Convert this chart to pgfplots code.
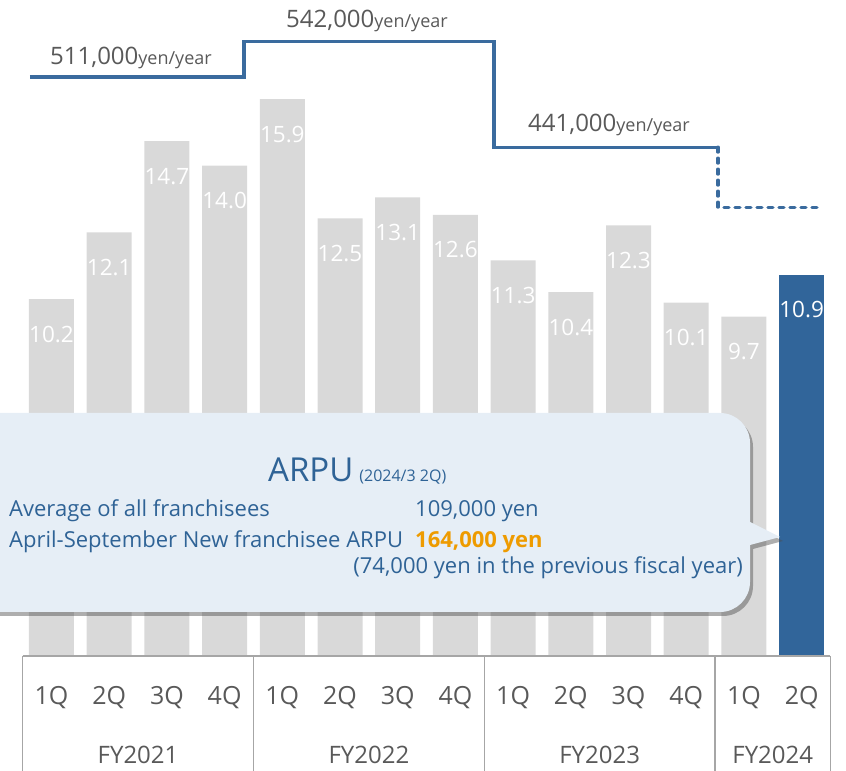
\documentclass[border=0pt]{standalone}
\usepackage{fontspec}
\setmainfont{Open Sans}
\usepackage{pgfplots}
\pgfplotsset{compat=1.18}
\usetikzlibrary{shadows}
\definecolor{bargray}{HTML}{D9D9D9}
\definecolor{barblue}{HTML}{31659A}
\definecolor{lineblue}{HTML}{3A6B9E}
\definecolor{txtgray}{HTML}{595959}
\definecolor{boxblue}{HTML}{E6EEF6}
\definecolor{txtblue}{HTML}{2F6396}
\definecolor{orng}{HTML}{EE9B00}
\definecolor{gridgray}{HTML}{A6A6A6}
\begin{document}
\begin{tikzpicture}
\begin{axis}[at={(0,0)}, anchor=south west, scale only axis, width=846pt, height=771pt,
  xmin=-0.8925, xmax=13.769, ymin=-3.249, ymax=18.723,
  axis line style={draw=none}, major tick length=0pt, ytick=\empty,
  xtick={0,...,13}, xticklabels={1Q,2Q,3Q,4Q,1Q,2Q,3Q,4Q,1Q,2Q,3Q,4Q,1Q,2Q},
  xticklabel style={font=\fontsize{25}{28}\selectfont, text=txtgray, anchor=center, yshift=73pt},
  clip=false,
  /pgf/number format/.cd, fixed, fixed zerofill, precision=1, assume math mode=true]
\addplot[ybar, bar width=45pt, bar shift=0pt, fill=bargray, draw=none,
  nodes near coords, every node near coord/.append style={anchor=center, yshift=-35pt, text=white, font=\fontsize{22.5}{26}\selectfont}]
  coordinates {(0,10.2) (1,12.1) (2,14.7) (3,14.0) (4,15.9) (5,12.5) (6,13.1) (7,12.6) (8,11.3) (9,10.4) (10,12.3) (11,10.1) (12,9.7)};
\addplot[ybar, bar width=45pt, bar shift=0pt, fill=barblue, draw=none,
  nodes near coords, every node near coord/.append style={anchor=center, yshift=-35pt, text=white, font=\fontsize{22.5}{26}\selectfont}]
  coordinates {(13,10.9)};
\addplot[sharp plot, lineblue, line width=3.2pt, line join=miter, mark=none]
  coordinates {(-0.373,16.53) (3.336,16.53) (3.336,17.53) (7.669,17.53) (7.669,14.53) (11.55,14.53)};
\addplot[sharp plot, lineblue, line width=3.2pt, line join=round, line cap=round, mark=none, dash pattern=on 5pt off 6pt]
  coordinates {(11.55,14.53) (11.55,12.82) (13.302,12.82)};
\draw[gridgray, line width=1.3pt] (axis cs:-0.5,0.03) -- (axis cs:13.5,0.03);
\pgfplotsinvokeforeach{-0.5,3.5,7.5,11.5,13.5}{
  \draw[gridgray, line width=1.3pt] (axis cs:#1,0.03) -- (axis cs:#1,-3.4);
}
\node[text=txtgray, font=\fontsize{24}{28}\selectfont, anchor=center] at (axis cs:1.5,-2.793) {FY2021};
\node[text=txtgray, font=\fontsize{24}{28}\selectfont, anchor=center] at (axis cs:5.5,-2.793) {FY2022};
\node[text=txtgray, font=\fontsize{24}{28}\selectfont, anchor=center] at (axis cs:9.5,-2.793) {FY2023};
\node[text=txtgray, font=\fontsize{24}{28}\selectfont, anchor=center] at (axis cs:12.5,-2.793) {FY2024};
\end{axis}
\begin{scope}[x=1pt, y=-1pt, shift={(0pt,771pt)}]
  \fill[boxblue, drop shadow={shadow xshift=3pt, shadow yshift=-4pt, opacity=0.45, fill=black!70}]
    (-40,413) -- (720,413) arc[start angle=-90, end angle=0, radius=30]
    -- (750,522) -- (780,537) -- (750,545) -- (750,582)
    arc[start angle=0, end angle=90, radius=30] -- (-40,612) -- cycle;
  \node[anchor=base west, inner sep=0pt, text=txtblue] at (268,482)
    {{\fontsize{33}{36}\selectfont ARPU}\hspace{6pt}{\fontsize{16}{18}\selectfont (2024/3 2Q)}};
  \node[anchor=base west, inner sep=0pt, text=txtblue, font=\fontsize{22}{25}\selectfont] at (9,517) {Average of all franchisees};
  \node[anchor=base west, inner sep=0pt, text=txtblue, font=\fontsize{22}{25}\selectfont] at (415,517) {109,000 yen};
  \node[anchor=base west, inner sep=0pt, text=txtblue, font=\fontsize{22}{25}\selectfont] at (9,548) {April-September New franchisee ARPU};
  \node[anchor=base west, inner sep=0pt, text=orng, font=\fontsize{22}{25}\selectfont\bfseries] at (415,548) {164,000 yen};
  \node[anchor=base east, inner sep=0pt, text=txtblue, font=\fontsize{22}{25}\selectfont] at (743,574) {(74,000 yen in the previous fiscal year)};
  \node[anchor=base west, inner sep=0pt, text=txtgray] at (50,65) {{\fontsize{24}{28}\selectfont 511,000}{\fontsize{18}{22}\selectfont yen/year}};
  \node[anchor=base west, inner sep=0pt, text=txtgray] at (286,28) {{\fontsize{24}{28}\selectfont 542,000}{\fontsize{18}{22}\selectfont yen/year}};
  \node[anchor=base west, inner sep=0pt, text=txtgray] at (528,132) {{\fontsize{24}{28}\selectfont 441,000}{\fontsize{18}{22}\selectfont yen/year}};
\end{scope}
\pgfresetboundingbox
\useasboundingbox (0,0) rectangle (846pt,771pt);
\end{tikzpicture}
\end{document}
